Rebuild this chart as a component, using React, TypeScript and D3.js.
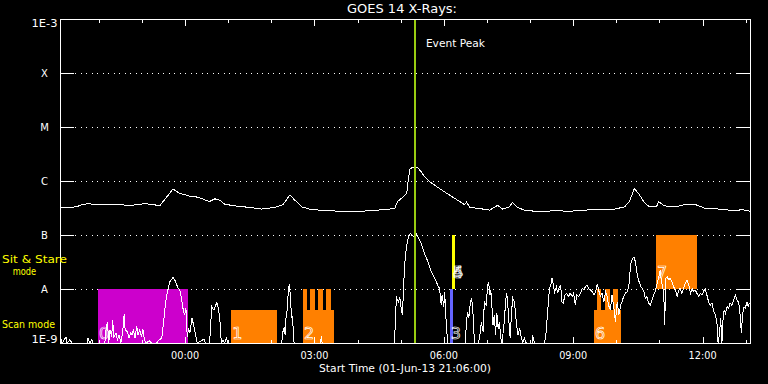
import React from "react";
import * as d3 from "d3";

// ---- time frame ----
const START_UTC = Date.UTC(2013, 5, 1, 21, 6, 0);
const SPAN_HOURS = 16;
const EVENT_PEAK_HOUR = 8.23;

// ---- y levels ----
const levelLogs = [-3, -4, -5, -6, -7, -8, -9];
const levelLabels = ["1E-3", "X", "M", "C", "B", "A", "1E-9"];

// ---- GOES long channel (1-8 A), hours since start, log10 flux ----
const longHours = [0, 0.39, 0.46, 0.63, 0.93, 1.11, 1.39, 1.58, 1.85, 1.97, 2.27, 2.32, 2.62, 2.78, 3.01, 3.2, 3.36, 3.47, 3.59, 3.71, 3.82, 4.05, 4.4, 4.68, 4.98, 5.17, 5.33, 5.44, 5.61, 5.79, 6.02, 6.49, 6.83, 7.18, 7.53, 7.76, 7.83, 7.95, 8.04, 8.07, 8.11, 8.17, 8.25, 8.3, 8.38, 8.45, 8.57, 8.8, 9.03, 9.27, 9.38, 9.43, 9.5, 9.73, 9.96, 10.15, 10.26, 10.42, 10.49, 10.61, 10.77, 10.89, 11.12, 11.47, 11.81, 12.16, 12.51, 12.86, 13.09, 13.2, 13.32, 13.44, 13.55, 13.67, 13.83, 13.88, 14.01, 14.25, 14.48, 14.71, 14.94, 15.29, 15.64, 15.82, 16.0];
const longLog = [-6.49, -6.48, -6.45, -6.42, -6.44, -6.43, -6.43, -6.46, -6.43, -6.42, -6.45, -6.45, -6.15, -6.23, -6.28, -6.3, -6.35, -6.38, -6.33, -6.36, -6.43, -6.46, -6.49, -6.52, -6.49, -6.44, -6.26, -6.35, -6.48, -6.52, -6.54, -6.56, -6.57, -6.55, -6.53, -6.51, -6.38, -6.3, -6.23, -6.02, -5.78, -5.75, -5.74, -5.76, -5.83, -5.92, -6.01, -6.14, -6.26, -6.38, -6.44, -6.39, -6.49, -6.51, -6.54, -6.45, -6.52, -6.48, -6.4, -6.49, -6.54, -6.55, -6.57, -6.55, -6.56, -6.54, -6.52, -6.52, -6.48, -6.38, -6.14, -6.26, -6.4, -6.48, -6.48, -6.38, -6.46, -6.48, -6.44, -6.43, -6.5, -6.52, -6.55, -6.53, -6.56];

// ---- GOES short channel (0.5-4 A), hours since start, log10 flux ----
const shortHours = [0, 0.02, 0.05, 0.14, 0.16, 0.23, 0.28, 0.63, 0.65, 0.69, 0.74, 0.76, 1.04, 1.07, 1.1, 1.13, 1.16, 1.2, 1.22, 1.25, 1.3, 1.33, 1.37, 1.41, 1.45, 1.49, 1.51, 1.56, 1.6, 1.64, 1.67, 1.7, 1.74, 1.78, 1.81, 1.85, 1.89, 1.92, 1.96, 1.99, 2.07, 2.12, 2.24, 2.3, 2.36, 2.39, 2.43, 2.47, 2.51, 2.55, 2.59, 2.62, 2.66, 2.7, 2.74, 2.78, 2.82, 2.86, 2.89, 2.92, 2.95, 2.98, 3.01, 3.06, 3.09, 3.12, 3.15, 3.18, 3.34, 3.37, 3.47, 3.5, 3.52, 3.57, 3.61, 3.64, 3.68, 3.71, 3.74, 3.78, 3.82, 3.86, 3.9, 5.13, 5.15, 5.17, 5.2, 5.22, 5.24, 5.26, 5.27, 5.29, 5.3, 5.32, 5.33, 5.35, 5.37, 5.38, 5.4, 5.41, 5.43, 6.04, 6.06, 6.08, 7.76, 7.78, 7.81, 7.85, 7.88, 7.92, 7.94, 7.95, 7.98, 8.01, 8.04, 8.08, 8.12, 8.16, 8.2, 8.26, 8.3, 8.34, 8.39, 8.45, 8.53, 8.61, 8.69, 8.76, 8.8, 8.84, 8.86, 8.9, 8.92, 8.94, 8.96, 8.99, 9.4, 9.42, 9.45, 9.48, 9.51, 9.54, 9.57, 9.59, 9.61, 9.69, 9.73, 9.77, 9.81, 9.84, 9.88, 9.92, 9.94, 9.97, 9.99, 10.01, 10.04, 10.07, 10.1, 10.13, 10.16, 10.19, 10.22, 10.25, 10.31, 10.33, 10.36, 10.38, 10.41, 10.44, 10.47, 10.5, 10.54, 10.58, 10.62, 10.66, 10.7, 10.73, 10.77, 10.81, 10.95, 10.96, 11.0, 11.23, 11.26, 11.29, 11.32, 11.35, 11.39, 11.41, 11.44, 11.47, 11.51, 11.54, 11.58, 11.61, 11.64, 11.67, 11.71, 11.75, 11.79, 11.83, 11.88, 11.91, 11.95, 11.98, 12.03, 12.07, 12.11, 12.15, 12.18, 12.22, 12.26, 12.3, 12.34, 12.38, 12.42, 12.46, 12.49, 12.53, 12.57, 12.61, 12.65, 12.69, 12.72, 12.76, 12.8, 12.84, 12.88, 12.92, 12.96, 13.0, 13.03, 13.07, 13.11, 13.15, 13.19, 13.21, 13.24, 13.28, 13.31, 13.34, 13.37, 13.41, 13.44, 13.47, 13.5, 13.54, 13.57, 13.61, 13.65, 13.69, 13.73, 13.77, 13.81, 13.85, 13.88, 13.92, 13.94, 13.98, 14.0, 14.02, 14.05, 14.08, 14.11, 14.15, 14.19, 14.23, 14.27, 14.31, 14.35, 14.38, 14.42, 14.46, 14.5, 14.54, 14.58, 14.62, 14.66, 14.69, 14.73, 14.77, 14.81, 14.85, 14.89, 14.92, 14.96, 15.0, 15.04, 15.08, 15.12, 15.16, 15.2, 15.24, 15.26, 15.29, 15.32, 15.35, 15.36, 15.4, 15.43, 15.47, 15.5, 15.54, 15.58, 15.62, 15.66, 15.7, 15.74, 15.77, 15.8, 15.83, 15.86, 15.89, 15.93, 15.96, 15.98];
const shortLog = [-9, -8.91, -9, -8.89, -9, -8.94, -9, -9, -8.91, -9, -8.93, -9, -9, -8.73, -8.61, -9, -8.76, -8.88, -8.57, -8.88, -8.82, -8.94, -8.85, -9, -8.82, -8.46, -8.76, -8.79, -8.91, -8.81, -8.85, -8.75, -8.91, -8.69, -8.85, -8.76, -8.88, -8.74, -8.94, -9, -8.96, -9, -9, -8.94, -8.91, -8.7, -8.39, -8.14, -7.99, -7.86, -7.82, -7.78, -7.83, -7.91, -7.99, -8.02, -8.19, -8.4, -8.48, -8.36, -8.88, -8.73, -8.82, -8.54, -8.64, -8.76, -8.88, -9, -8.93, -9, -9, -8.57, -8.33, -8.39, -8.3, -8.25, -8.39, -8.61, -9, -8.94, -9, -8.91, -9, -9, -8.94, -8.79, -8.7, -8.85, -8.54, -8.48, -8.3, -8.11, -7.96, -7.93, -8.02, -8.24, -8.54, -8.51, -8.61, -8.85, -9, -9, -8.88, -9, -9, -8.42, -8.17, -8.24, -8.15, -8.42, -8.48, -8.3, -7.74, -7.37, -7.19, -7.03, -6.97, -7.0, -7.03, -6.97, -7.03, -7.09, -7.19, -7.34, -7.49, -7.68, -7.8, -7.93, -7.99, -8.3, -8.11, -8.33, -8.05, -8.42, -8.67, -9, -9, -8.67, -8.42, -8.54, -8.3, -8.16, -8.35, -8.67, -9, -9, -8.91, -8.61, -8.79, -8.24, -8.3, -7.93, -7.88, -8.11, -8.02, -8.24, -8.67, -8.48, -8.85, -8.45, -8.73, -8.61, -8.91, -9, -8.54, -8.24, -8.08, -8.24, -8.61, -8.91, -8.42, -8.17, -8.24, -8.61, -8.85, -8.73, -8.91, -9, -8.91, -9, -9, -8.85, -9, -9, -8.91, -8.61, -8.3, -7.99, -7.89, -7.8, -7.93, -8.05, -7.96, -8.07, -7.96, -7.93, -8.24, -8.26, -8.11, -8.08, -8.14, -8.08, -8.14, -8.08, -8.3, -8.11, -8.14, -8.08, -7.99, -8.02, -7.96, -7.93, -7.99, -8.02, -8.05, -8.11, -8.05, -7.91, -8.02, -8.14, -8.08, -8.24, -8.05, -8.14, -8.3, -8.39, -8.11, -8.33, -8.61, -8.24, -8.48, -8.3, -8.24, -8.14, -8.08, -8.05, -7.96, -7.74, -7.52, -7.43, -7.41, -7.49, -7.65, -7.83, -7.89, -7.96, -7.99, -8.05, -8.17, -8.14, -8.26, -8.3, -8.2, -8.11, -8.02, -7.89, -7.8, -7.65, -7.83, -7.99, -8.05, -8.67, -7.8, -7.77, -7.83, -7.8, -7.86, -7.96, -8.02, -8.14, -8.02, -7.99, -8.08, -7.99, -7.89, -7.83, -7.93, -8.08, -7.99, -8.05, -8.02, -8.08, -8.14, -8.08, -8.11, -8.05, -7.99, -8.11, -8.24, -8.3, -8.26, -8.42, -8.48, -8.67, -9, -8.85, -8.54, -9, -8.67, -8.39, -8.45, -8.33, -8.36, -8.26, -8.3, -8.2, -8.11, -8.2, -8.26, -8.48, -8.82, -8.45, -8.33, -8.36, -8.24, -8.33, -8.26];

// ---- IRIS observations ----
const obsIds = ["0", "1", "2", "3", "4", "5", "6", "7"];
const obsStart = [0.88, 3.97, 5.635, 9.04, 9.09, 9.09, 12.38, 13.82];
const obsEnd = [2.97, 5.03, 6.35, 9.12, 9.15, 9.15, 13.02, 14.76];
const obsLo = [-9, -9, -9, -9, -8, -8, -9, -8];
const obsHi = [-8, -8.39, -8.39, -8, -7, -7, -8.39, -7];
const obsColor = ["#cc00cc", "#ff8000", "#ff8000", "#6464ff", "#ffff00", "#ffff00", "#ff8000", "#ff8000"];

// raster steps that reach the A level
const stepStart = [5.635, 5.797, 5.983, 6.168, 12.453, 12.645, 12.823];
const stepEnd = [5.728, 5.913, 6.099, 6.284, 12.552, 12.747, 12.932];
const stepLo = -8.39;
const stepHi = -8;

const W = 768;
const H = 384;
const L = 60;
const R = 750;
const T = 19;
const B = 343;
const FONT = "'DejaVu Sans', sans-serif";

const toDate = (h: number) => new Date(START_UTC + h * 3600e3);

export default function App() {
  const x = d3.scaleUtc().domain([toDate(0), toDate(SPAN_HOURS)]).range([L, R]);
  const y = d3.scaleLog().domain([1e-9, 1e-3]).range([B, T]);
  const yl = (v: number) => y(Math.pow(10, v));
  const xh = (h: number) => x(toDate(h));

  const line = d3
    .line<[number, number]>()
    .x((d) => xh(d[0]))
    .y((d) => yl(d[1]));

  const longPts = longHours.map((h, i) => [h, longLog[i]] as [number, number]);
  const shortPts = shortHours.map((h, i) => [h, shortLog[i]] as [number, number]);

  const hourTicks = x.ticks(d3.utcHour.every(1) as any);
  const fmt = d3.utcFormat("%H:%M");

  return (
    <svg width={W} height={H} style={{ position: "absolute", left: 0, top: 0, background: "#000" }}>
      <rect x={0} y={0} width={W} height={H} fill="#000" />
      <defs>
        <clipPath id="plot">
          <rect x={L} y={T} width={R - L} height={B - T + 1} />
        </clipPath>
      </defs>

      {/* grid levels */}
      {levelLogs.slice(1, -1).map((lv) => {
        const yy = Math.round(yl(lv)) + 0.5;
        return (
          <g key={lv} shapeRendering="crispEdges">
            <line x1={L} x2={L + 14} y1={yy} y2={yy} stroke="#fff" />
            <line x1={R - 14} x2={R} y1={yy} y2={yy} stroke="#fff" />
            <line x1={L + 15} x2={R - 15} y1={yy} y2={yy} stroke="#fff" strokeDasharray="1 4.5" />
          </g>
        );
      })}

      {/* observation blocks */}
      <g shapeRendering="crispEdges">
        {obsIds.map((id, i) => (
          <rect
            key={"o" + i}
            x={xh(obsStart[i])}
            width={xh(obsEnd[i]) - xh(obsStart[i])}
            y={yl(obsHi[i])}
            height={yl(obsLo[i]) - yl(obsHi[i])}
            fill={obsColor[i]}
          />
        ))}
        {stepStart.map((s, i) => (
          <rect
            key={"s" + i}
            x={xh(s)}
            width={xh(stepEnd[i]) - xh(s)}
            y={yl(stepHi)}
            height={yl(stepLo) - yl(stepHi)}
            fill="#ff8000"
          />
        ))}
      </g>

      {/* curves */}
      <g clipPath="url(#plot)" fill="none" stroke="#fff" strokeWidth={1} shapeRendering="crispEdges">
        <path d={line(longPts) || ""} />
        <path d={line(shortPts) || ""} />
      </g>

      {/* observation labels */}
      {obsIds.map((id, i) => (
        <text
          key={"l" + i}
          x={xh(obsStart[i]) + 1}
          y={obsLo[i] === -9 ? yl(-9) - 4.5 : yl(-8) - 11}
          fontFamily={FONT}
          fontSize={16}
          fill="none"
          stroke="#fff"
          strokeWidth={0.7}
        >
          {id}
        </text>
      ))}

      {/* event peak */}
      <line x1={Math.round(xh(EVENT_PEAK_HOUR))} x2={Math.round(xh(EVENT_PEAK_HOUR))} y1={T} y2={B} stroke="#99cc11" strokeWidth={2} shapeRendering="crispEdges" />
      <text x={xh(EVENT_PEAK_HOUR) + 11} y={46.5} fontFamily={FONT} fontSize={10.5} fill="#fff" textLength={59} lengthAdjust="spacingAndGlyphs">
        Event Peak
      </text>

      {/* frame */}
      <rect x={L + 0.5} y={T + 0.5} width={R - L} height={B - T} fill="none" stroke="#fff" shapeRendering="crispEdges" />

      {/* hour ticks */}
      <g stroke="#fff" shapeRendering="crispEdges">
        {hourTicks.map((d, i) => {
          const xx = Math.round(x(d)) + 0.5;
          const major = d.getUTCHours() % 3 === 0;
          const len = major ? 6.5 : 3.5;
          return (
            <g key={"t" + i}>
              <line x1={xx} x2={xx} y1={T} y2={T + len} />
              <line x1={xx} x2={xx} y1={B} y2={B - len} />
            </g>
          );
        })}
      </g>
      {hourTicks
        .filter((d) => d.getUTCHours() % 3 === 0)
        .map((d, i) => (
          <text key={"tl" + i} x={x(d)} y={358.5} textAnchor="middle" fontFamily={FONT} fontSize={10.5} fill="#fff" textLength={28} lengthAdjust="spacingAndGlyphs">
            {fmt(d)}
          </text>
        ))}

      {/* y labels */}
      {levelLogs.map((lv, i) => {
        let yy = yl(lv) + 4;
        if (i === 0) yy = 26.7;
        if (i === levelLogs.length - 1) yy = 343.3;
        const wide = levelLabels[i].length > 1;
        return (
          <text
            key={"y" + i}
            x={44.5}
            y={yy}
            textAnchor="middle"
            fontFamily={FONT}
            fontSize={wide ? 10.5 : 10}
            fill="#fff"
            {...(wide ? { textLength: 26, lengthAdjust: "spacingAndGlyphs" } : {})}
          >
            {levelLabels[i]}
          </text>
        );
      })}

      {/* mode labels */}
      <text x={2} y={262.5} fontFamily={FONT} fontSize={11} fill="#ffff00" textLength={65} lengthAdjust="spacingAndGlyphs">
        Sit &amp; Stare
      </text>
      <text x={12.7} y={275} fontFamily={FONT} fontSize={11} fill="#ffff00" textLength={23.5} lengthAdjust="spacingAndGlyphs">
        mode
      </text>
      <text x={2} y={328} fontFamily={FONT} fontSize={11} fill="#ffff00" textLength={53} lengthAdjust="spacingAndGlyphs">
        Scan mode
      </text>

      {/* titles */}
      <text x={402} y={13.3} textAnchor="middle" fontFamily={FONT} fontSize={12} fill="#fff" textLength={110} lengthAdjust="spacingAndGlyphs">
        GOES 14 X-Rays:
      </text>
      <text x={405} y={371.5} textAnchor="middle" fontFamily={FONT} fontSize={11} fill="#fff" textLength={172} lengthAdjust="spacingAndGlyphs">
        Start Time (01-Jun-13 21:06:00)
      </text>
    </svg>
  );
}
